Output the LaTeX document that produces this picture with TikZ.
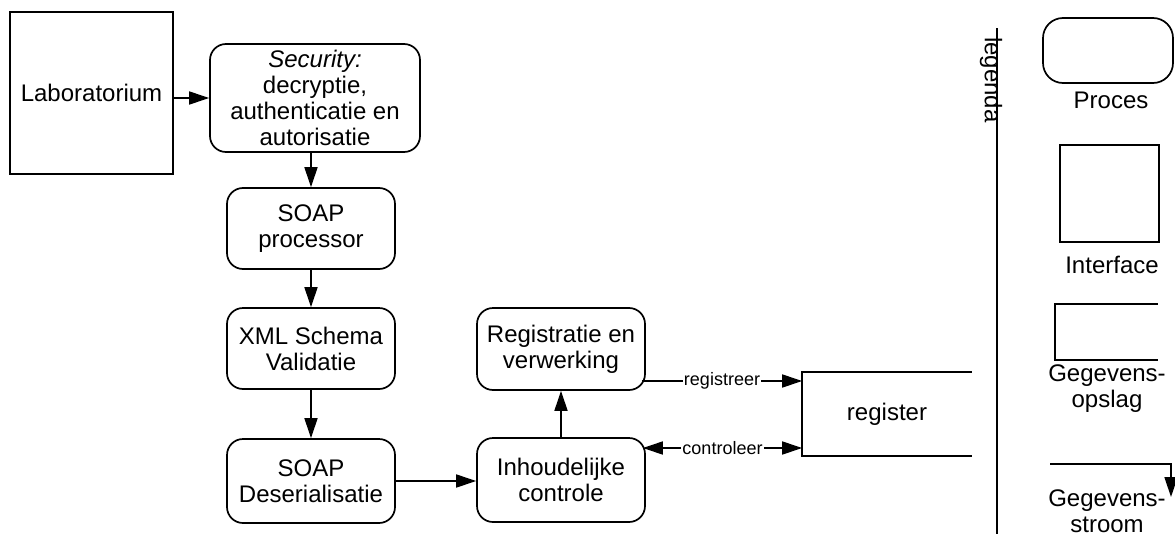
\documentclass[tikz,border=0pt]{standalone}
\usepackage{fontspec}
\setmainfont{Liberation Sans}
\usetikzlibrary{arrows.meta, positioning, calc}

\begin{document}
\begin{tikzpicture}[
  x=1pt, y=-1pt,
  line width=1.7pt,
  >={Triangle[length=20pt, width=13pt]},
  txt/.style={font=\fontsize{24}{26}\selectfont, align=center, inner sep=0pt},
  procbox/.style={txt, draw, rounded corners=16pt, minimum width=168pt, minimum height=82pt},
  ifbox/.style={txt, draw, minimum width=163pt, minimum height=162pt},
  flowlabel/.style={font=\fontsize{18}{20}\selectfont, fill=white, inner sep=1pt}
]
  \useasboundingbox (0,0) rectangle (1175,538);

  % processen
  \node[ifbox] (lab) at (91.5, 93) {Laboratorium};
  \node[procbox, minimum width=210pt, minimum height=108pt] (sec) at (315, 98)
    {\textit{Security:}\\decryptie,\\authenticatie en\\autorisatie};
  \node[procbox, minimum height=81pt] (soap) at (311, 228.5) {SOAP\\processor};
  \node[procbox, minimum height=81pt] (xml) at (311, 348.5) {XML Schema\\Validatie};
  \node[procbox, minimum height=84pt] (deser) at (311, 481) {SOAP\\Deserialisatie};
  \node[procbox, minimum height=84pt] (inhoud) at (561, 480) {Inhoudelijke\\controle};
  \node[procbox] (regis) at (561, 349) {Registratie en\\verwerking};

  % gegevensopslag
  \node[txt, minimum width=168pt, minimum height=82pt] (reg) at (887, 414) {register};
  \draw (reg.north east) -- (reg.north west) -- (reg.south west) -- (reg.south east);

  % stromen
  \draw[->] (lab.east |- sec.west) -- (sec.west);
  \draw[->] (sec.south -| soap.north) -- (soap.north);
  \draw[->] (soap) -- (xml);
  \draw[->] (xml) -- (deser);
  \draw[->] (deser.east) -- (deser.east -| inhoud.west);
  \draw[->] (inhoud) -- (regis);

  \coordinate (regout) at ($(regis.east)+(-4,32)$);
  \coordinate (ctrlin) at ($(inhoud.east)+(-3,-32)$);
  \draw[->] (regout) -- node[flowlabel] {registreer} (reg.west |- regout);
  \draw[<->] (ctrlin) -- node[flowlabel] {controleer} (reg.west |- ctrlin);

  % legenda
  \coordinate (legtop) at (997, 28);
  \coordinate (legbot) at (997, 534);
  \draw (legtop) -- (legbot);
  \node[txt, rotate=-90] (legtxt) at (991, 80) {legenda};

  \node[draw, rounded corners=20pt, minimum width=130pt, minimum height=65pt, inner sep=0pt] (legproc) at (1108, 50.5) {};
  \node[txt] (legproctxt) at (1111, 100) {Proces};

  \node[draw, minimum width=99pt, minimum height=97pt, inner sep=0pt] (legif) at (1109.5, 193.5) {};
  \node[txt] (legiftxt) at (1112, 265) {Interface};

  \node[minimum width=101pt, minimum height=54pt, inner sep=0pt] (legstore) at (1106.5, 332) {};
  \draw (legstore.north east) -- (legstore.north west) -- (legstore.south west) -- (legstore.south east);
  \node[txt] (legstoretxt) at (1107, 389) {Gegevens-\\opslag};

  \coordinate (strmA) at (1050, 464);
  \coordinate (strmB) at (1171, 464);
  \coordinate (strmC) at (1171, 497);
  \draw[->] (strmA) -- (strmB) -- (strmC);
  \node[txt] (legstrmtxt) at (1107, 511) {Gegevens-\\stroom};
\end{tikzpicture}
\end{document}
